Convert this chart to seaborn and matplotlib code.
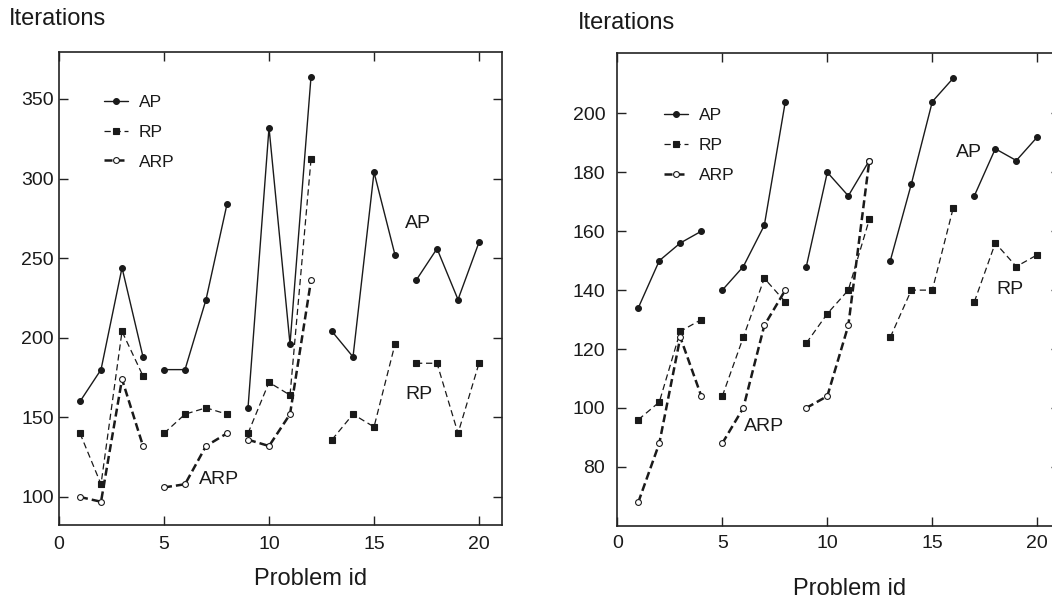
import matplotlib
matplotlib.use("Agg")
import pandas as pd
import matplotlib.pyplot as plt
from matplotlib.lines import Line2D
from matplotlib.legend_handler import HandlerLine2D
import seaborn as sns

# problem ids on the x axis, iterations
problem_ids = list(range(1, 21))

left_ap = [160, 180, 244, 188, 180, 180, 224, 284, 156, 332,
           196, 364, 204, 188, 304, 252, 236, 256, 224, 260]
left_rp = [140, 108, 204, 176, 140, 152, 156, 152, 140, 172,
           164, 312, 136, 152, 144, 196, 184, 184, 140, 184]
left_arp = [100, 97, 174, 132, 106, 108, 132, 140, 136, 132, 152, 236]

right_ap = [134, 150, 156, 160, 140, 148, 162, 204, 148, 180,
            172, 184, 150, 176, 204, 212, 172, 188, 184, 192]
right_rp = [96, 102, 126, 130, 104, 124, 144, 136, 122, 132,
            140, 164, 124, 140, 140, 168, 136, 156, 148, 152]
right_arp = [68, 88, 124, 104, 88, 100, 128, 140, 100, 104, 128, 184]

methods = ["AP", "RP", "ARP"]
left_ticks = [100, 150, 200, 250, 300, 350]
right_ticks = [80, 100, 120, 140, 160, 180, 200]
x_ticks = [0, 5, 10, 15, 20]

styles = {
    "AP": dict(dashes="", marker="o", lw=1.0, ms=4.2, mfc="k"),
    "RP": dict(dashes=(5, 3), marker="s", lw=0.9, ms=4.4, mfc="k"),
    "ARP": dict(dashes=(3.2, 1.6), marker="o", lw=1.8, ms=4.2, mfc="w"),
}


def long_table(values, name):
    df = pd.DataFrame({"Problem id": problem_ids[:len(values)],
                       "Iterations": values})
    df["Method"] = name
    # every 4 problems form a separate, unconnected block
    df["block"] = (df["Problem id"] - 1) // 4
    return df


class MarkerLeft(HandlerLine2D):
    # marker sits at the start of the legend line, not in the middle
    def get_xdata(self, legend, xdescent, ydescent, width, height, fontsize):
        return [-xdescent, -xdescent + width], [-xdescent]


def draw_panel(ax, series, ylim, yticks, ypad, xpad, legend_anchor, notes):
    for name, values in zip(methods, series):
        st = styles[name]
        sns.lineplot(data=long_table(values, name), x="Problem id", y="Iterations",
                     units="block", estimator=None, sort=False,
                     style="Method", dashes={name: st["dashes"]},
                     markers={name: st["marker"]}, color="k",
                     linewidth=st["lw"], markersize=st["ms"], mfc=st["mfc"],
                     mec="k", mew=0.8, legend=False, ax=ax)

    ax.set_xlim(0, 21.1)
    ax.set_ylim(*ylim)
    ax.set_xticks(x_ticks)
    ax.set_yticks(yticks)
    ax.set_xlabel("")
    ax.set_ylabel("")
    ax.tick_params(direction="in", length=6.5, width=1.0, bottom=True, left=True,
                   top=True, right=True, labelsize=14, colors="#222222",
                   labelcolor="k")
    ax.tick_params(axis="y", pad=ypad)
    ax.tick_params(axis="x", pad=xpad)
    for sp in ax.spines.values():
        sp.set_visible(True)
        sp.set_linewidth(1.2)
        sp.set_color("#222222")

    handles = []
    for name in methods:
        st = styles[name]
        ls = "-" if st["dashes"] == "" else (0, st["dashes"])
        handles.append(Line2D([], [], color="k", lw=st["lw"], linestyle=ls,
                              marker=st["marker"], ms=st["ms"], mfc=st["mfc"],
                              mec="k", mew=0.8))
    ax.legend(handles, methods, handler_map={Line2D: MarkerLeft()},
              loc="upper left", bbox_to_anchor=legend_anchor, frameon=False,
              borderpad=0, borderaxespad=0, handlelength=1.38,
              handletextpad=0.62, labelspacing=0.85, fontsize=12.5, numpoints=1)

    for label, x, y in notes:
        ax.text(x, y, label, ha="center", va="center", fontsize=14)


sns.set_theme(style="ticks")
plt.rcParams["font.family"] = ["Liberation Sans", "DejaVu Sans"]
plt.rcParams["text.color"] = "k"

fig = plt.figure(figsize=(10.52, 6.02), dpi=100)
ax1 = fig.add_axes([0.0561, 0.1287, 0.4212, 0.7849])
ax2 = fig.add_axes([0.5868, 0.1267, 0.4212, 0.7847])

draw_panel(ax1, [left_ap, left_rp, left_arp], (82.7, 379.5), left_ticks,
           3.7, 8.5, (0.1023, 0.910),
           [("AP", 17.07, 271.5), ("RP", 17.12, 164.2), ("ARP", 7.62, 110.8)])
draw_panel(ax2, [right_ap, right_rp, right_arp], (60, 220.4), right_ticks,
           8.6, 6.5, (0.106, 0.884),
           [("AP", 16.75, 186.7), ("RP", 18.68, 140.2), ("ARP", 6.99, 93.7)])

W, H = 1052, 602
fig.text(9.3 / W, 1 - 25 / H, "Iterations", ha="left", va="baseline", fontsize=17)
fig.text(578 / W, 1 - 29.3 / H, "Iterations", ha="left", va="baseline", fontsize=17)
fig.text(310.5 / W, 1 - 585 / H, "Problem id", ha="center", va="baseline", fontsize=17)
fig.text(850 / W, 1 - 595 / H, "Problem id", ha="center", va="baseline", fontsize=17)

fig.savefig("out.png", dpi=100)
